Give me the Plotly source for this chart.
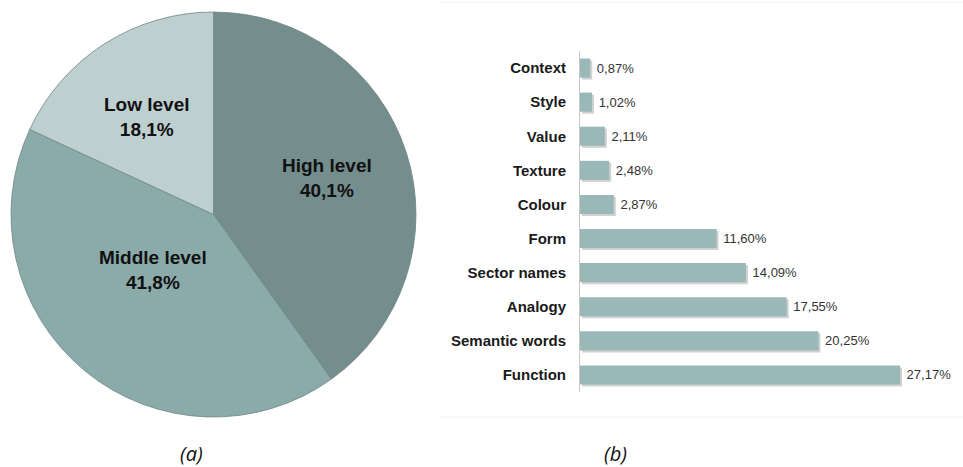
import math
import plotly.graph_objects as go

# Panel (a): share of each level
pie_labels = ["High level", "Middle level", "Low level"]
pie_values = [40.1, 41.8, 18.1]
pie_colors = ["#748d8d", "#8baaaa", "#becfcf"]

# Panel (b): share of each category
bar_categories = ["Context", "Style", "Value", "Texture", "Colour", "Form",
                  "Sector names", "Analogy", "Semantic words", "Function"]
bar_values = [0.87, 1.02, 2.11, 2.48, 2.87, 11.60, 14.09, 17.55, 20.25, 27.17]

W, H = 963, 467
FONT = "Liberation Sans, Arial, sans-serif"


def fmt(v, nd):
    return f"{v:.{nd}f}".replace(".", ",") + "%"


def px_x(p):
    return p / W


def px_y(p):
    return 1 - p / H


# pie placement (pixels)
cx, cy, r = 213.5, 214.5, 202.5
# label placement: distance from centre (fraction of radius) and extra nudge in px
label_radius = [0.58, 0.45, 0.58]
label_nudge = [(2, -1), (-2, -15), (-3, 1)]

fig = go.Figure()

fig.add_trace(go.Pie(
    labels=pie_labels,
    values=pie_values,
    sort=False,
    direction="clockwise",
    rotation=0,
    marker=dict(colors=pie_colors, line=dict(color="#6f8585", width=0.8)),
    textinfo="none",
    showlegend=False,
    hoverinfo="label+percent",
    domain=dict(x=[px_x(cx - r), px_x(cx + r)], y=[px_y(cy + r), px_y(cy - r)]),
))

annotations = []
total = sum(pie_values)
start = 0.0
for lab, v, rho, (nx, ny) in zip(pie_labels, pie_values, label_radius, label_nudge):
    mid = (start + v / 2) / total * 2 * math.pi
    start += v
    lx = cx + rho * r * math.sin(mid) + nx
    ly = cy - rho * r * math.cos(mid) + ny
    annotations.append(dict(
        text=f"<b>{lab}</b><br><b>{fmt(v, 1)}</b>",
        x=px_x(lx), y=px_y(ly), xref="paper", yref="paper",
        showarrow=False, xanchor="center", yanchor="middle", align="center",
        font=dict(family=FONT, size=19, color="#111111"),
    ))

# soft drop shadow beneath the bars (lower subplot)
fig.add_trace(go.Bar(
    x=bar_values, y=bar_categories, orientation="h",
    marker=dict(color="rgba(90,90,90,0.28)", line=dict(width=0)),
    xaxis="x", yaxis="y", showlegend=False, hoverinfo="skip",
))

# main bars
fig.add_trace(go.Bar(
    x=bar_values, y=bar_categories, orientation="h",
    marker=dict(color="#9ab8b8", line=dict(width=0)),
    text=[" " + fmt(v, 2) for v in bar_values],
    textposition="outside",
    cliponaxis=False,
    textfont=dict(family=FONT, size=13, color="#333333"),
    xaxis="x2", yaxis="y2", showlegend=False,
))

x_left, x_right = 580, 963
y_top, y_bot = 51, 392
xmax = (x_right - x_left) * 27.17 / 320
shadow_dx, shadow_dy = 2, 2

annotations += [
    dict(text="<i>(a)</i>", x=px_x(191), y=px_y(453), xref="paper", yref="paper",
         showarrow=False, xanchor="center", yanchor="middle",
         font=dict(family="Open Sans, sans-serif", size=20, color="#111111")),
    dict(text="<i>(b)</i>", x=px_x(615), y=px_y(453), xref="paper", yref="paper",
         showarrow=False, xanchor="center", yanchor="middle",
         font=dict(family="Open Sans, sans-serif", size=20, color="#111111")),
]

fig.update_layout(
    width=W, height=H,
    margin=dict(l=0, r=0, t=0, b=0),
    paper_bgcolor="white",
    plot_bgcolor="rgba(0,0,0,0)",
    bargap=0.44,
    xaxis=dict(domain=[px_x(x_left + shadow_dx), 1],
               range=[0, (x_right - x_left - shadow_dx) * 27.17 / 320],
               visible=False, fixedrange=True),
    yaxis=dict(domain=[px_y(y_bot + shadow_dy), px_y(y_top + shadow_dy)],
               autorange="reversed", visible=False, fixedrange=True),
    xaxis2=dict(domain=[px_x(x_left), px_x(x_right)], anchor="y2",
                range=[0, xmax], visible=False, fixedrange=True),
    yaxis2=dict(domain=[px_y(y_bot), px_y(y_top)], anchor="x2",
                autorange="reversed",
                showline=True, linecolor="#c8c8c8", linewidth=1,
                showgrid=False, zeroline=False, ticks="",
                ticklabelstandoff=10,
                tickfont=dict(family=FONT, size=15, color="#1a1a1a", weight="bold"),
                fixedrange=True),
    annotations=annotations,
    shapes=[
        dict(type="line", xref="paper", yref="paper",
             x0=px_x(440), x1=1, y0=px_y(417), y1=px_y(417),
             line=dict(color="#f2f2f2", width=1)),
        dict(type="line", xref="paper", yref="paper",
             x0=px_x(440), x1=1, y0=px_y(2), y1=px_y(2),
             line=dict(color="#f5f5f5", width=1)),
    ],
)

fig.write_html("out.html")
